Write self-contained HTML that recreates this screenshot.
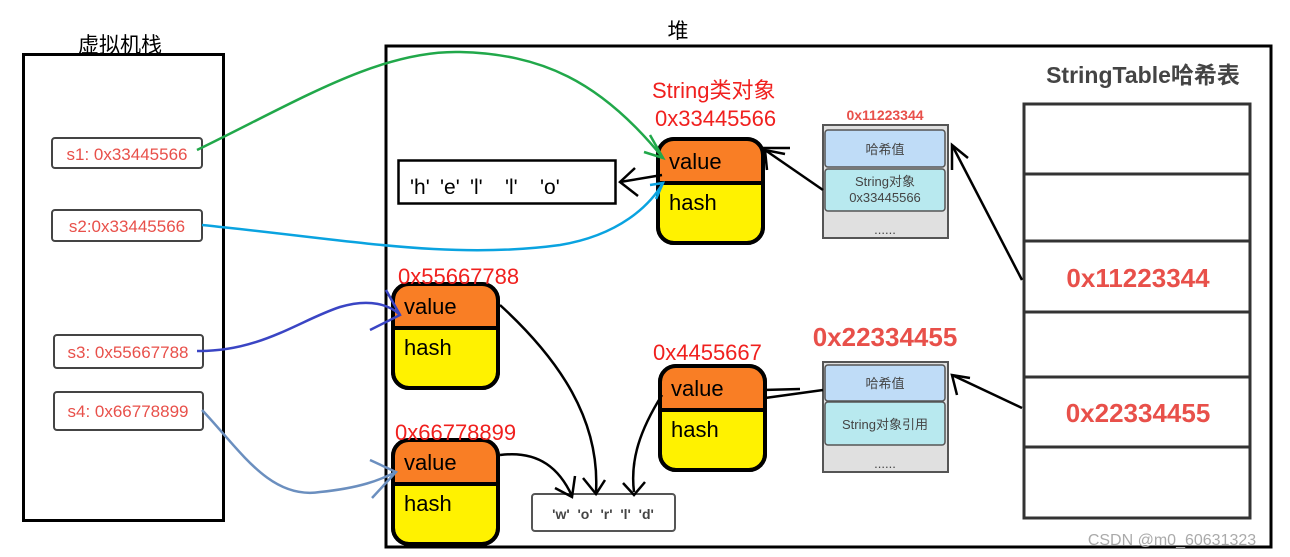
<!DOCTYPE html>
<html><head><meta charset="utf-8"><style>
html,body{margin:0;padding:0;background:#fff;width:1290px;height:557px;overflow:hidden}
svg{display:block}
text{font-family:"Liberation Sans","Noto Sans CJK SC",sans-serif}
</style></head><body>
<svg width="1290" height="557" viewBox="0 0 1290 557" xmlns="http://www.w3.org/2000/svg">
<!-- stack -->
<text x="120" y="52" font-size="21" text-anchor="middle" fill="#000">虚拟机栈</text>
<rect x="23.5" y="54.5" width="200" height="466" fill="none" stroke="#000" stroke-width="3"/>
<g font-size="17" fill="#e8504a" text-anchor="middle">
<rect x="52" y="138" width="150" height="30" rx="3" fill="#fff" stroke="#444" stroke-width="2"/>
<text x="127" y="160">s1: 0x33445566</text>
<rect x="52" y="210" width="150" height="31" rx="3" fill="#fff" stroke="#444" stroke-width="2"/>
<text x="127" y="232">s2:0x33445566</text>
<rect x="54" y="335" width="149" height="33" rx="3" fill="#fff" stroke="#444" stroke-width="2"/>
<text x="128" y="358">s3: 0x55667788</text>
<rect x="54" y="392" width="149" height="38" rx="3" fill="#fff" stroke="#444" stroke-width="2"/>
<text x="128" y="417">s4: 0x66778899</text>
</g>
<!-- heap -->
<text x="678" y="38" font-size="21" text-anchor="middle">堆</text>
<rect x="386" y="46" width="885" height="501" fill="none" stroke="#000" stroke-width="3"/>
<text x="1143" y="83" font-size="23" font-weight="bold" fill="#444" text-anchor="middle">StringTable哈希表</text>
<!-- table -->
<g stroke="#333" stroke-width="3" fill="none">
<rect x="1024" y="104" width="226" height="414"/>
<line x1="1024" y1="174" x2="1250" y2="174"/>
<line x1="1024" y1="241" x2="1250" y2="241"/>
<line x1="1024" y1="312" x2="1250" y2="312"/>
<line x1="1024" y1="377" x2="1250" y2="377"/>
<line x1="1024" y1="447" x2="1250" y2="447"/>
</g>
<g font-size="26" font-weight="bold" fill="#e8504a" text-anchor="middle">
<text x="1138" y="287">0x11223344</text>
<text x="1138" y="422">0x22334455</text>
<text x="885" y="346">0x22334455</text>
</g>
<!-- hash entries -->
<text x="885" y="120" font-size="14" font-weight="bold" fill="#e8504a" text-anchor="middle">0x11223344</text>
<rect x="823" y="125" width="125" height="113" fill="#e0e0e0" stroke="#555" stroke-width="2"/>
<rect x="825" y="130" width="120" height="37" rx="3" fill="#bfdcf7" stroke="#555" stroke-width="1.5"/>
<rect x="825" y="169" width="120" height="42" rx="3" fill="#b8e9ef" stroke="#555" stroke-width="1.5"/>
<g font-size="13" fill="#444" text-anchor="middle">
<text x="885" y="154">哈希值</text>
<text x="885" y="186">String对象</text>
<text x="885" y="202">0x33445566</text>
<text x="885" y="234">......</text>
</g>
<rect x="823" y="362" width="125" height="110" fill="#e0e0e0" stroke="#555" stroke-width="2"/>
<rect x="825" y="365" width="120" height="36" rx="3" fill="#bfdcf7" stroke="#555" stroke-width="1.5"/>
<rect x="825" y="402" width="120" height="43" rx="3" fill="#b8e9ef" stroke="#555" stroke-width="1.5"/>
<g font-size="13" fill="#444" text-anchor="middle">
<text x="885" y="388">哈希值</text>
<text x="885" y="429">String对象引用</text>
<text x="885" y="468">......</text>
</g>
<!-- char arrays -->
<rect x="398.5" y="160.5" width="217" height="43" fill="#fff" stroke="#000" stroke-width="2.5"/>
<g font-size="21">
<text x="410" y="194">'h'</text><text x="440" y="194">'e'</text><text x="470" y="194">'l'</text><text x="505" y="194">'l'</text><text x="540" y="194">'o'</text>
</g>
<rect x="532" y="494" width="143" height="37" rx="3" fill="#fff" stroke="#555" stroke-width="2"/>
<text x="603" y="519" font-size="14" font-weight="bold" fill="#444" text-anchor="middle" xml:space="preserve">'w'  'o'  'r'  'l'  'd'</text>
<!-- objects -->
<defs>
<g id="obj">
<rect x="0" y="0" width="105" height="104" rx="16" fill="#fff200" stroke="#000" stroke-width="4"/>
<path d="M2 44 V16 Q2 2 16 2 H89 Q103 2 103 16 V44 Z" fill="#f97e25"/>
<rect x="0" y="0" width="105" height="104" rx="16" fill="none" stroke="#000" stroke-width="4"/>
<line x1="0" y1="44" x2="107" y2="44" stroke="#000" stroke-width="4"/>
<text x="11" y="30" font-size="22" fill="#000">value</text>
<text x="11" y="71" font-size="22" fill="#000">hash</text>
</g>
</defs>
<use href="#obj" x="658" y="139"/>
<use href="#obj" x="393" y="284"/>
<use href="#obj" x="393" y="440"/>
<use href="#obj" x="660" y="366"/>
<g font-size="22" fill="#f0201e">
<text x="652" y="98">String类对象</text>
<text x="655" y="126">0x33445566</text>
<text x="398" y="284">0x55667788</text>
<text x="395" y="440">0x66778899</text>
<text x="653" y="360">0x4455667</text>
</g>
<!-- connectors -->
<g fill="none" stroke-width="2.5">
<path d="M197 150 C300 100 380 50 460 52 C540 54 600 80 663 158" stroke="#21a84a"/>
<path d="M650 135 L663 158 L644 152" stroke="#21a84a"/>
<path d="M202 225 C350 240 450 260 560 245 C620 235 650 205 663 183" stroke="#0aa3e0"/>
<path d="M650 185 L663 183 L656 199" stroke="#0aa3e0"/>
<path d="M197 351 C260 352 300 320 340 307 C370 298 390 305 400 315" stroke="#3a45c4"/>
<path d="M386 290 L400 315 L370 330" stroke="#3a45c4"/>
<path d="M202 410 C240 450 270 500 320 492 C360 488 380 480 396 472" stroke="#6b8fbf"/>
<path d="M370 460 L396 472 L372 498" stroke="#6b8fbf"/>
</g>
<g fill="none" stroke="#000" stroke-width="2.5">
<path d="M662 175 L620 182"/><path d="M635 168 L620 182 L638 196"/>
<path d="M763 148 L790 148"/>
<path d="M823 190 L765 150"/><path d="M767 170 L765 150 L785 154"/>
<path d="M1022 280 L952 145"/><path d="M952 170 L952 145 L968 158"/>
<path d="M1022 408 L952 375"/><path d="M957 395 L952 375 L970 378"/>
<path d="M823 390 L765 398"/><path d="M763 390 L800 389"/>
<path d="M500 305 C560 360 600 420 596 492"/><path d="M583 478 L596 494 L605 480"/>
<path d="M500 455 C540 450 560 470 572 496"/><path d="M555 488 L572 497 L575 476"/>
<path d="M662 395 C640 430 630 460 634 492"/><path d="M623 483 L634 495 L645 482"/>
</g>
<text x="1172" y="545" font-size="16" fill="#aaa" text-anchor="middle">CSDN @m0_60631323</text>
</svg>
</body></html>
